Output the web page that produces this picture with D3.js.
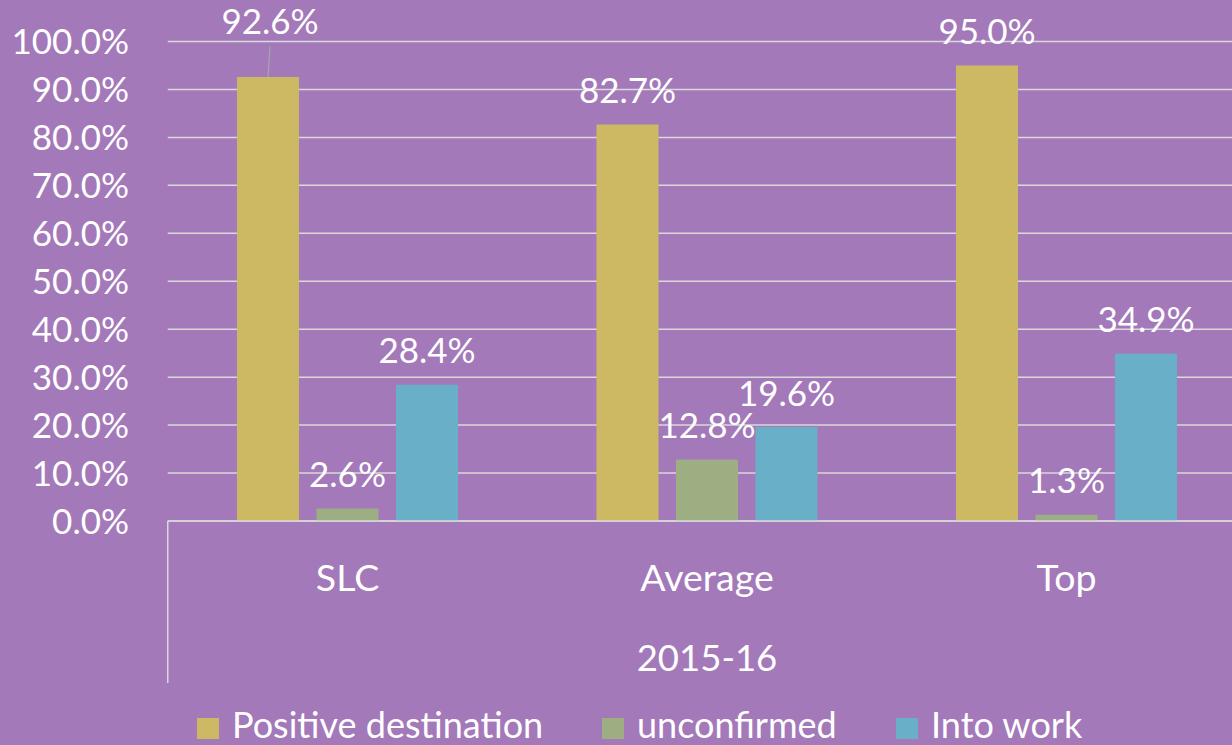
<!DOCTYPE html>
<html>
<head>
<meta charset="utf-8">
<script src="https://cdn.jsdelivr.net/npm/d3@7"></script>
<style>
  html, body { margin: 0; padding: 0; background: #A379BA; }
  svg { display: block; }
  text { font-family: Lato, "Open Sans", sans-serif; fill: #ffffff; }
</style>
</head>
<body>
<svg id="chart" width="1232" height="745"></svg>
<script>
const categories = ["SLC", "Average", "Top"];
const groupLabel = "2015-16";
const seriesNames = ["Positive destination", "unconfirmed", "Into work"];
const positiveDestination = [0.926, 0.827, 0.950];
const unconfirmed = [0.026, 0.128, 0.013];
const intoWork = [0.284, 0.196, 0.349];
const yTicks = [0, 0.1, 0.2, 0.3, 0.4, 0.5, 0.6, 0.7, 0.8, 0.9, 1.0];
const colors = ["#CDB864", "#9DAF82", "#69AFC8"];

const seriesValues = [positiveDestination, unconfirmed, intoWork];

const svg = d3.select("#chart");
const W = 1232, H = 745;
svg.append("rect").attr("width", W).attr("height", H).attr("fill", "#A379BA");

const plotLeft = 167.75, plotRight = 1246.25;
const y = d3.scaleLinear().domain([0, 1]).range([521, 41.5]);
const x0 = d3.scaleBand().domain(categories).range([plotLeft, plotRight]).paddingInner(0).paddingOuter(0);
const groupWidth = 221;
const groupOffset = (x0.bandwidth() - groupWidth) / 2;
const x1 = d3.scaleBand().domain(seriesNames).range([0, groupWidth]).paddingInner(0.22).paddingOuter(0);

const fmt = d3.format(".1%");
const fontSize = 35;

// gridlines
svg.append("g").selectAll("line").data(yTicks).join("line")
  .attr("x1", plotLeft).attr("x2", W)
  .attr("y1", d => y(d)).attr("y2", d => y(d))
  .attr("stroke", "#D9D9D9").attr("stroke-width", 1.5);

// y labels
svg.append("g").selectAll("text").data(yTicks).join("text")
  .attr("x", 129).attr("y", d => y(d) + 12.5)
  .attr("text-anchor", "end")
  .attr("font-size", fontSize)
  .text(d => fmt(d));

// vertical category axis divider line
svg.append("line")
  .attr("x1", plotLeft).attr("x2", plotLeft)
  .attr("y1", y(0)).attr("y2", 683)
  .attr("stroke", "#D9D9D9").attr("stroke-width", 1.5);

// bars
const flat = [];
categories.forEach((c, ci) => {
  seriesNames.forEach((s, si) => {
    flat.push({cat: c, ci, series: s, si, value: seriesValues[si][ci]});
  });
});

const bx = d => x0(d.cat) + groupOffset + x1(d.series);

svg.append("g").selectAll("rect").data(flat).join("rect")
  .attr("x", bx)
  .attr("y", d => y(d.value))
  .attr("width", x1.bandwidth())
  .attr("height", d => y(0) - y(d.value))
  .attr("fill", d => colors[d.si]);

// data labels
const labelAdjust = { "SLC|Positive destination": { dx: 2, dy: -21 } };
const lbl = svg.append("g");
flat.forEach(d => {
  const cx = bx(d) + x1.bandwidth() / 2;
  const adj = labelAdjust[d.cat + "|" + d.series] || { dx: 0, dy: 0 };
  const by = y(d.value) - 21.5 + adj.dy;
  lbl.append("text")
    .attr("x", cx + adj.dx).attr("y", by)
    .attr("text-anchor", "middle")
    .attr("font-size", fontSize)
    .text(fmt(d.value));
  if (adj.dy !== 0) {
    svg.append("line")
      .attr("x1", cx + adj.dx).attr("y1", by + 12)
      .attr("x2", cx).attr("y2", y(d.value))
      .attr("stroke", "#A6A6A6").attr("stroke-width", 1.2);
  }
});

// x axis line
svg.append("line")
  .attr("x1", plotLeft).attr("x2", W)
  .attr("y1", y(0)).attr("y2", y(0))
  .attr("stroke", "#D9D9D9").attr("stroke-width", 1.5);

// category labels
svg.append("g").selectAll("text").data(categories).join("text")
  .attr("x", d => x0(d) + x0.bandwidth() / 2)
  .attr("y", 591)
  .attr("text-anchor", "middle")
  .attr("font-size", 37.5)
  .text(d => d);

svg.append("text")
  .attr("x", (plotLeft + plotRight) / 2)
  .attr("y", 671)
  .attr("text-anchor", "middle")
  .attr("font-size", 36.5)
  .text(groupLabel);

// legend
const legendX = [197, 602, 896];
const lg = svg.append("g");
seriesNames.forEach((s, i) => {
  lg.append("rect").attr("x", legendX[i]).attr("y", 718).attr("width", 22).attr("height", 21).attr("fill", colors[i]);
  lg.append("text").attr("x", legendX[i] + 35).attr("y", 738).attr("font-size", 36).text(s);
});
</script>
</body>
</html>
